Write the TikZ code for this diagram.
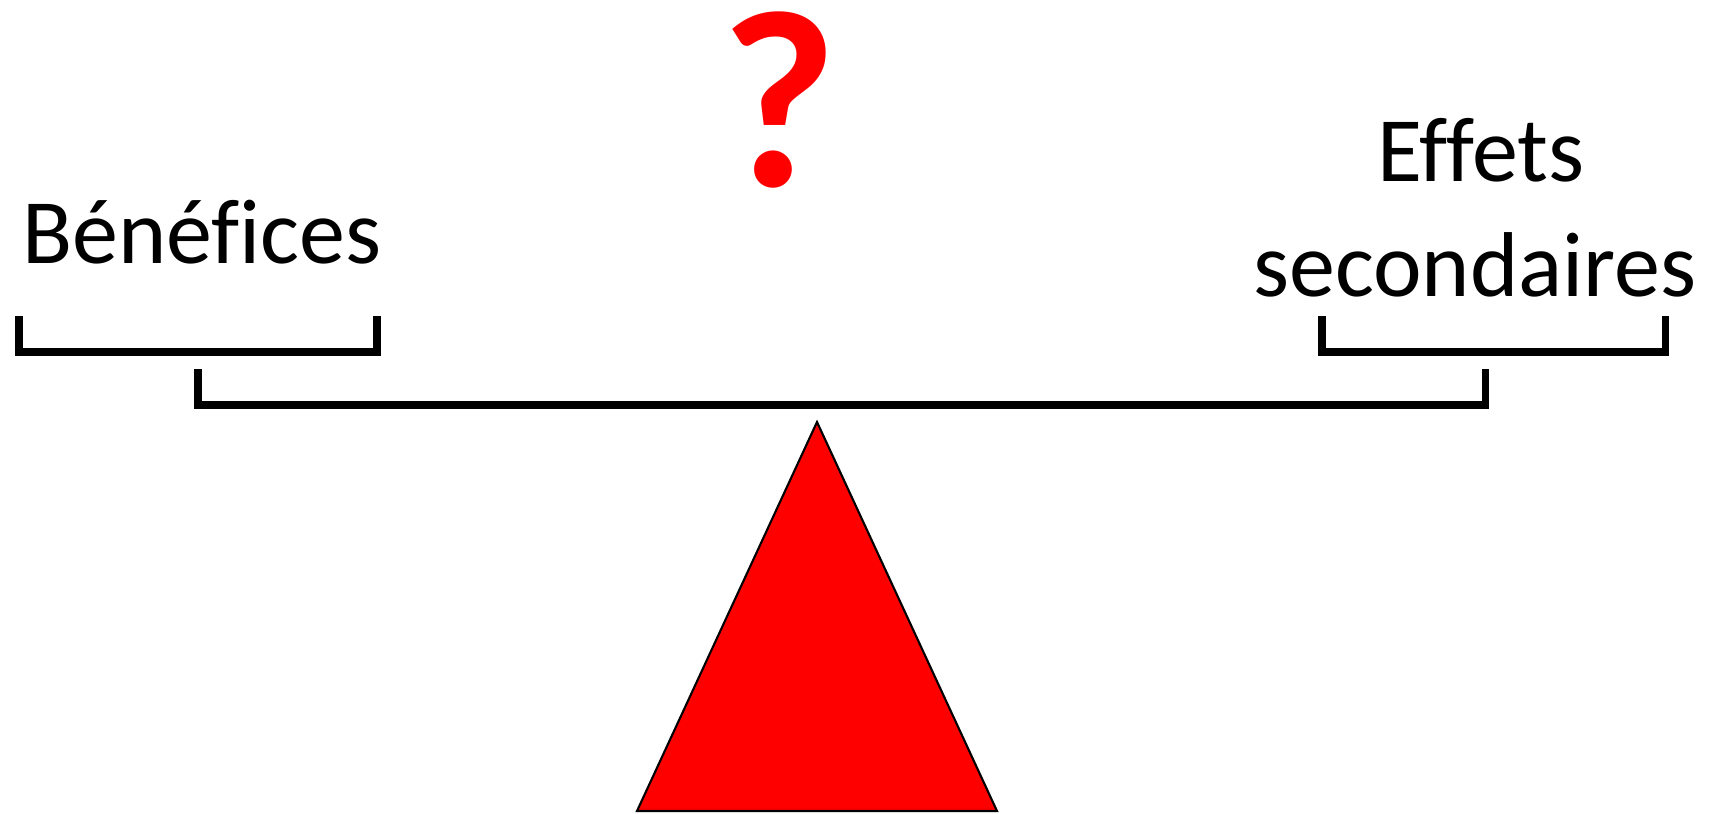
\documentclass[tikz,border=0pt]{standalone}
\usepackage{fontspec}
\setmainfont{Carlito}[Ligatures=NoCommon]
\usetikzlibrary{positioning}
\definecolor{signRed}{HTML}{FF0000}

\begin{document}
\begin{tikzpicture}[
    label/.style={font=\fontsize{26.2}{32}\selectfont, inner sep=0pt, anchor=base},
    bar/.style={line width=2pt, line join=miter},
  ]
    \useasboundingbox (0,0) rectangle (17.2,8.13);
    % question mark
    \node[font=\bfseries\fontsize{72}{72}\selectfont\color{signRed}, inner sep=0pt, anchor=base] (quest) at (7.79,6.27) {?};
    % labels
    \node[label] (benef) at (2.02,5.50) {Bénéfices};
    \node[label] (effets) at (14.81,6.32) {Effets};
    \node[label] (second) at (14.75,5.17) {secondaires};
    % pans and beam
    \draw[bar] (0.19,4.97) -- (0.19,4.61) -- (3.77,4.61) -- (3.77,4.97);
    \draw[bar] (13.22,4.97) -- (13.22,4.61) -- (16.65,4.61) -- (16.65,4.97);
    \draw[bar] (1.98,4.44) -- (1.98,4.08) -- (14.85,4.08) -- (14.85,4.44);
    % pivot
    \draw[fill=signRed, line width=0.6pt] (8.17,3.91) -- (9.97,0.02) -- (6.37,0.02) -- cycle;
  \end{tikzpicture}
\end{document}
